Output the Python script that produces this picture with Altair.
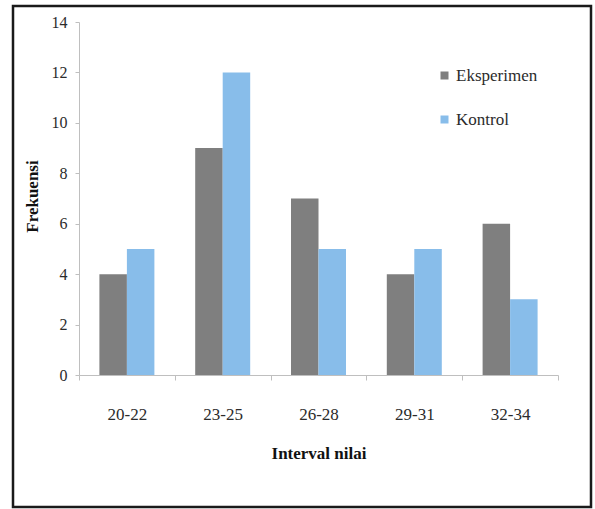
import altair as alt
import pandas as pd

# Frequency of scores per interval for the two groups
intervals = ["20-22", "23-25", "26-28", "29-31", "32-34"]
eksperimen = [4, 9, 7, 4, 6]
kontrol = [5, 12, 5, 5, 3]
series = ["Eksperimen", "Kontrol"]
colors = ["#7f7f7f", "#88bdea"]
y_ticks = [0, 2, 4, 6, 8, 10, 12, 14]

rows = []
for i, lab in enumerate(intervals):
    rows.append({"interval": lab, "kelompok": series[0], "frekuensi": eksperimen[i]})
    rows.append({"interval": lab, "kelompok": series[1], "frekuensi": kontrol[i]})
df = pd.DataFrame(rows)

FONT = "'Liberation Serif', 'Times New Roman', Tinos, 'DejaVu Serif', serif"
AXIS_GRAY = "#bfbfbf"
TEXT = "#2b2b2b"

bars = alt.Chart(df).mark_bar().encode(
    x=alt.X(
        "interval:N",
        sort=intervals,
        scale=alt.Scale(paddingInner=0, paddingOuter=0),
        axis=alt.Axis(
            title="Interval nilai",
            labelAngle=0,
            tickBand="extent",
            tickSize=5,
            labelPadding=26,
            labelFont=FONT,
            labelFontSize=17,
            labelColor=TEXT,
            domainColor=AXIS_GRAY,
            tickColor=AXIS_GRAY,
            titleFont=FONT,
            titleFontSize=17,
            titleFontWeight="bold",
            titleColor="#111111",
            titleBaseline="middle",
            titleY=78,
        ),
    ),
    xOffset=alt.XOffset(
        "kelompok:N",
        sort=series,
        scale=alt.Scale(paddingInner=0, paddingOuter=0.742),
    ),
    y=alt.Y(
        "frekuensi:Q",
        scale=alt.Scale(domain=[0, 14], nice=False),
        axis=alt.Axis(
            title="Frekuensi",
            values=y_ticks,
            grid=False,
            tickSize=4,
            labelPadding=8,
            labelFont=FONT,
            labelFontSize=16,
            labelColor=TEXT,
            domainColor=AXIS_GRAY,
            tickColor=AXIS_GRAY,
            titleFont=FONT,
            titleFontSize=17,
            titleFontWeight="bold",
            titleColor="#111111",
            titleAngle=270,
            titleAlign="center",
            titleBaseline="middle",
            titleX=-47,
            titleY=174,
        ),
    ),
    color=alt.Color(
        "kelompok:N",
        scale=alt.Scale(domain=series, range=colors),
        legend=alt.Legend(
            title=None,
            orient="none",
            legendX=357,
            legendY=45,
            symbolType="square",
            symbolSize=64,
            symbolStrokeWidth=0,
            labelFont=FONT,
            labelFontSize=17,
            labelColor=TEXT,
            labelOffset=3,
            rowPadding=26,
        ),
    ),
)

# Frame around the whole figure
frame = alt.Chart(pd.DataFrame({"k": [0]})).mark_rect(
    fillOpacity=0, stroke="#1a1a1a", strokeWidth=2.5, clip=False
).encode(
    x=alt.value(-66), x2=alt.value(512), y=alt.value(-16), y2=alt.value(485)
)

chart = alt.layer(bars, frame).properties(
    width=479,
    height=353,
    autosize=alt.AutoSizeParams(type="none"),
    padding={"left": 79, "top": 22, "right": 37, "bottom": 134},
    background="white",
).configure(font=FONT).configure_view(stroke=None)

chart.save("out.html", embed_options={"renderer": "svg", "actions": False})
